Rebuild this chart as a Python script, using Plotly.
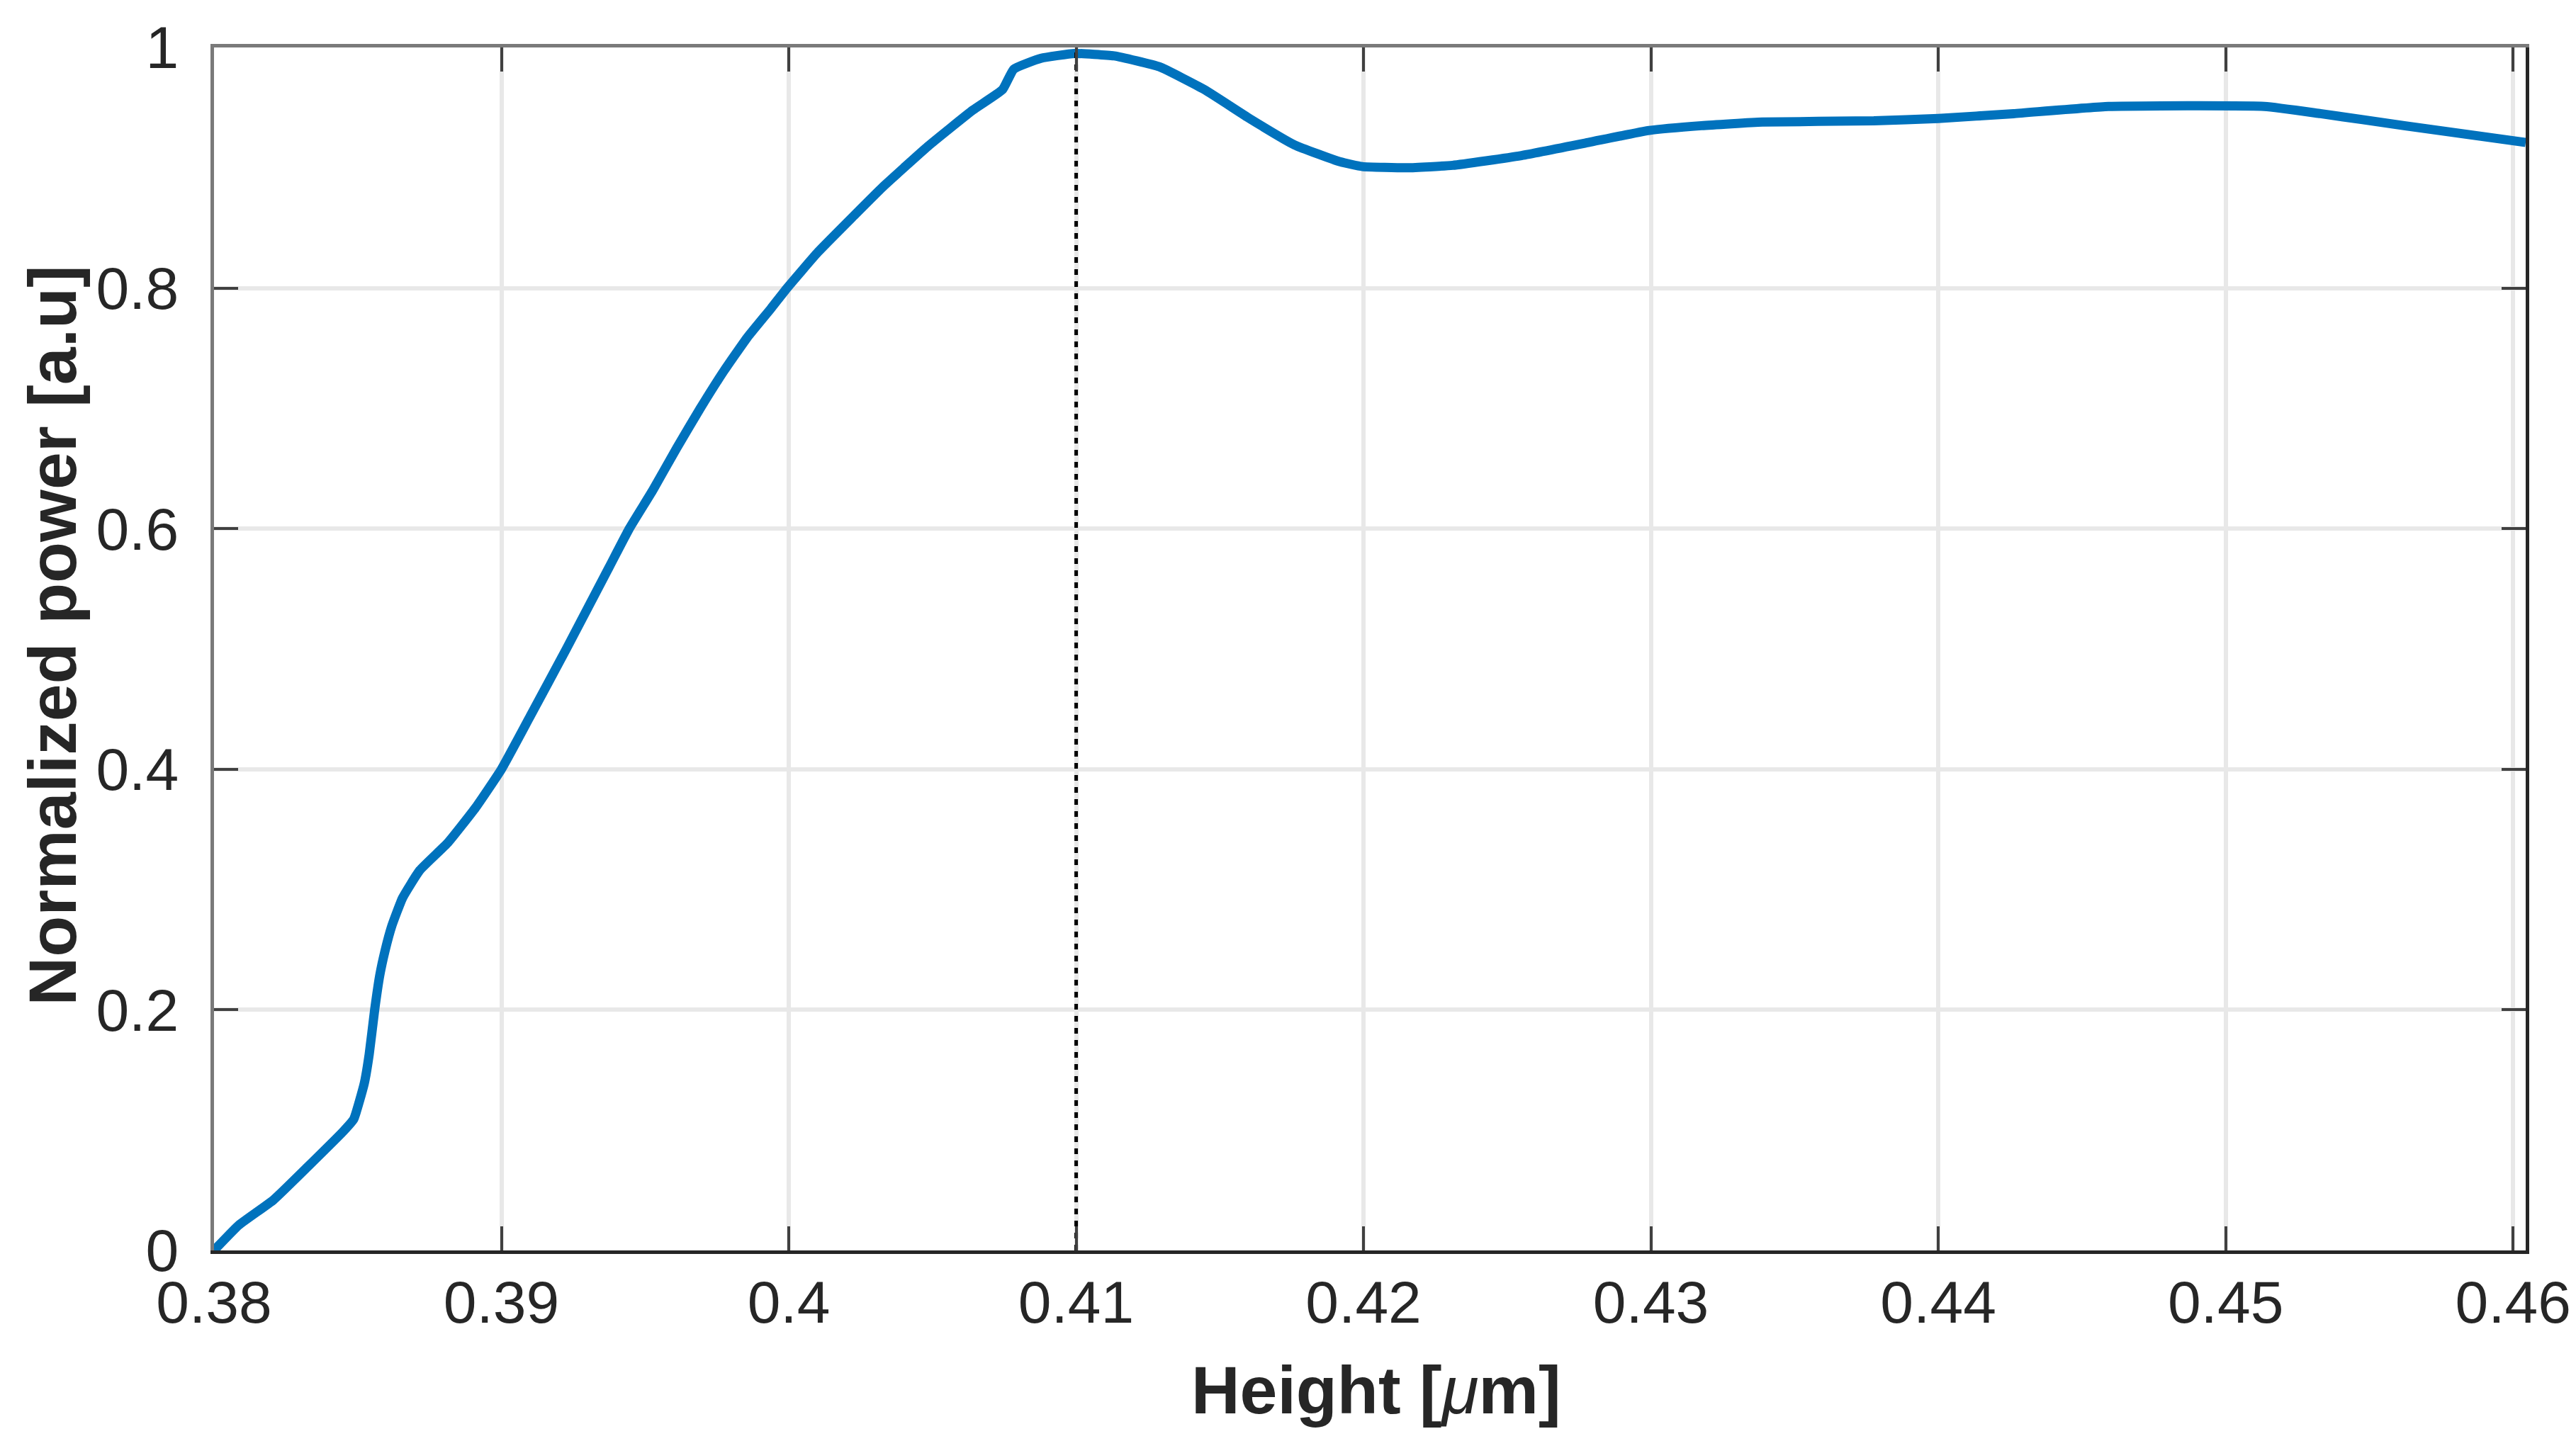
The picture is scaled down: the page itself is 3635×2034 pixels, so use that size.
import plotly.graph_objects as go

# curve: height [um] vs normalized power
height_um = [0.3800, 0.38086, 0.38207, 0.38328, 0.3845, 0.38486, 0.38523, 0.3854,
             0.38559, 0.38577, 0.38595, 0.38619, 0.38656, 0.38716, 0.38814, 0.3891,
             0.3900, 0.3910, 0.39226, 0.39375, 0.39445, 0.39527, 0.3961, 0.39692,
             0.39774, 0.39856, 0.39938, 0.39994, 0.40102, 0.40226, 0.40327, 0.40485,
             0.40641, 0.40744, 0.40783, 0.40878, 0.40995,
             0.41132, 0.41289, 0.41446, 0.41603, 0.4176, 0.41918, 0.41996, 0.42153,
             0.4231, 0.42546, 0.42782, 0.42994, 0.43176, 0.43388, 0.43776, 0.4400,
             0.44262, 0.44592, 0.45135, 0.4533, 0.45621, 0.46044]
norm_power = [0.000, 0.021, 0.042, 0.070, 0.099, 0.109, 0.139, 0.163,
              0.200, 0.229, 0.249, 0.270, 0.293, 0.316, 0.339, 0.368,
              0.400, 0.444, 0.500, 0.568, 0.600, 0.632, 0.667, 0.700,
              0.731, 0.759, 0.783, 0.800, 0.830, 0.860, 0.884, 0.918,
              0.948, 0.965, 0.982, 0.991, 0.995,
              0.993, 0.984, 0.965, 0.941, 0.919, 0.905, 0.901, 0.900,
              0.902, 0.910, 0.921, 0.931, 0.935, 0.938, 0.939, 0.941,
              0.945, 0.951, 0.951, 0.945, 0.935, 0.921]

# vertical marker at the optimum height
marker_x = [0.41, 0.41]
marker_y = [0.0, 1.0]

x_ticks = [0.38, 0.39, 0.40, 0.41, 0.42, 0.43, 0.44, 0.45, 0.46]
x_labels = ['0.38', '0.39', '0.4', '0.41', '0.42', '0.43', '0.44', '0.45', '0.46']
y_ticks = [0, 0.2, 0.4, 0.6, 0.8, 1.0]
y_labels = ['0', '0.2', '0.4', '0.6', '0.8', '1']

x_range = [0.38, 0.46044]
y_range = [0, 1]

FONT = 'Liberation Sans, Arial, sans-serif'
DARK = '#262626'
GREY = '#7a7a7a'

fig = go.Figure()
fig.add_trace(go.Scatter(x=height_um, y=norm_power, mode='lines',
                         line=dict(color='#0072BD', width=13, shape='spline', smoothing=0.4),
                         showlegend=False))
fig.add_trace(go.Scatter(x=marker_x, y=marker_y, mode='lines',
                         line=dict(color='black', width=5, dash='8px,9px'), showlegend=False))

axis_common = dict(ticks='inside', ticklen=34, tickwidth=4, tickcolor='#404040',
                   tickfont=dict(family=FONT, size=84, color=DARK),
                   showline=True, linewidth=5, zeroline=False)

fig.update_layout(
    width=3635, height=2034,
    margin=dict(l=294, r=79, t=59, b=277, autoexpand=False),
    paper_bgcolor='white', plot_bgcolor='white',
    xaxis=dict(range=x_range, tickvals=x_ticks, ticktext=x_labels,
               showgrid=True, gridcolor='#e8e8e8', gridwidth=6,
               linecolor=DARK, ticklabelstandoff=-4, **axis_common),
    yaxis=dict(range=y_range, tickvals=y_ticks, ticktext=y_labels,
               showgrid=True, gridcolor='#e8e8e8', gridwidth=6,
               linecolor=GREY, ticklabelstandoff=28, **axis_common),
    xaxis2=dict(range=x_range, tickvals=x_ticks, overlaying='x', side='top',
                showticklabels=False, showgrid=False, linecolor=GREY, **axis_common),
    yaxis2=dict(range=y_range, tickvals=y_ticks, overlaying='y', side='right',
                showticklabels=False, showgrid=False, linecolor=DARK, **axis_common),
)

# invisible trace so the top/right axes get drawn
fig.add_trace(go.Scatter(x=[x_range[0]], y=[y_range[0]], xaxis='x2', yaxis='y2',
                         mode='markers', marker=dict(opacity=0), showlegend=False,
                         hoverinfo='skip'))

# axis titles placed like the original export
fig.add_annotation(text='<b>Height [</b><i>μ</i><b>m]</b>', xref='paper', yref='paper',
                   x=0.5028, y=-0.116, xanchor='center', yanchor='middle', showarrow=False,
                   font=dict(family=FONT, size=95, color=DARK))
fig.add_annotation(text='<b>Normalized power [a.u]</b>', xref='paper', yref='paper',
                   x=-0.0696, y=0.5115, xanchor='center', yanchor='middle', showarrow=False,
                   textangle=-90, font=dict(family=FONT, size=95, color=DARK))

fig.write_html("out.html")
